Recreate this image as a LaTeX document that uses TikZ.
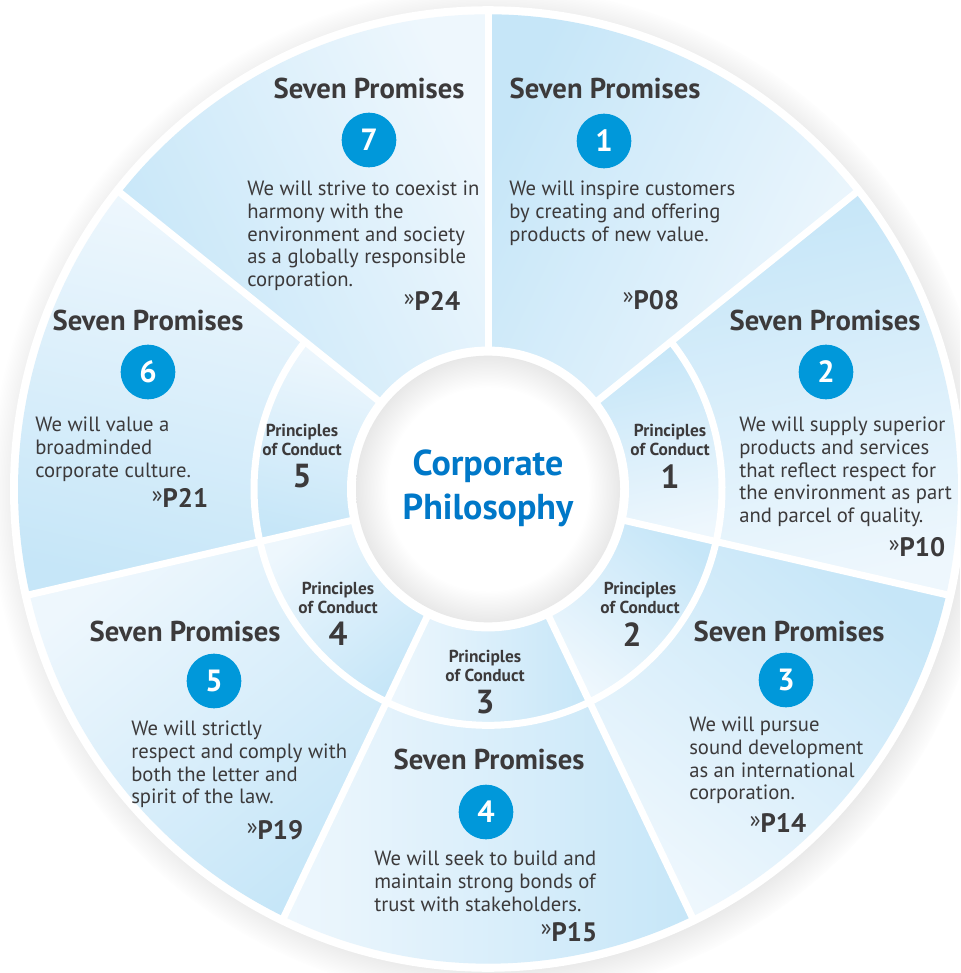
\documentclass[tikz,border=0pt]{standalone}
\usepackage{fontspec}
\setmainfont{PT Sans}
\usetikzlibrary{positioning, shadows}
\definecolor{philoBlue}{HTML}{0078C8}
\definecolor{promiseBlue}{HTML}{0098DA}
\definecolor{segmentDark}{HTML}{C6E6F8}
\definecolor{segmentLight}{HTML}{EEF7FD}
\definecolor{philoText}{HTML}{3C3A3B}
\pgfdeclareradialshading{innerglow}{\pgfpoint{0bp}{0bp}}{color(0bp)=(white); color(19bp)=(white); color(25bp)=(black!9); color(50bp)=(black!9)}
\newcommand{\seeref}[1]{{\mdseries\fontsize{17}{17}\selectfont\raisebox{4pt}{»}}#1}

\begin{document}
\begin{tikzpicture}[
        x=0.75pt, y=0.75pt,
        font=\fontsize{15.5}{17}\selectfont,
        segment/.style={
            left color=segmentDark,
            right color=segmentLight,
            shading angle=#1
        },
        divider/.style={
            draw=white,
            line width=5.25pt
        },
        promisetitle/.style={
            inner sep=0pt,
            text=philoText,
            font=\bfseries\fontsize{21.5}{22}\selectfont
        },
        promisenum/.style={
            circle,
            fill=promiseBlue,
            text=white,
            minimum size=41pt,
            inner sep=0pt,
            font=\bfseries\fontsize{23}{23}\selectfont
        },
        promisetext/.style={
            anchor=north west,
            align=left,
            inner sep=0pt,
            text=philoText
        },
        pageref/.style={
            inner sep=0pt,
            text=philoText,
            font=\bfseries\fontsize{20}{20}\selectfont
        },
        conductlabel/.style={
            align=center,
            inner sep=0pt,
            text=philoText,
            font=\bfseries\fontsize{13}{14.5}\selectfont
        },
        conductnum/.style={
            inner sep=0pt,
            text=philoText,
            font=\bfseries\fontsize{25}{25}\selectfont
        }
    ]

    % 1 unit = 1 px of the 960 x 973 page, y runs downwards as -y
    \useasboundingbox (0,0) rectangle (960,-973);
    \clip (0,0) rectangle (960,-973);

    \begin{scope}[shift={(488,-489)}, yscale=1.01]
        \fill[white, circular drop shadow={shadow scale=1.05,
            shadow xshift=3pt, shadow yshift=-3pt, opacity=0.4}]
            (0,0) circle (478);

        % seven promises, clockwise from the top
        \foreach \k/\rin in {1/138,2/234,3/234,4/234,5/234,6/234,7/138} {
            \pgfmathsetmacro\start{90-(\k-1)*360/7}
            \pgfmathsetmacro\stop{90-\k*360/7}
            \pgfmathsetmacro\mid{(\start+\stop)/2}
            \shade[segment=\mid] (\start:\rin) -- (\start:470)
                arc[start angle=\start, end angle=\stop, radius=470]
                -- (\stop:\rin)
                arc[start angle=\stop, end angle=\start, radius=\rin] -- cycle;
        }

        % principles of conduct in the middle ring
        \foreach \k in {2,...,6} {
            \pgfmathsetmacro\start{90-(\k-1)*360/7}
            \pgfmathsetmacro\stop{90-\k*360/7}
            \pgfmathsetmacro\mid{(\start+\stop)/2}
            \shade[segment=\mid] (\start:138) -- (\start:234)
                arc[start angle=\start, end angle=\stop, radius=234]
                -- (\stop:138)
                arc[start angle=\stop, end angle=\start, radius=138] -- cycle;
        }

        \foreach \k in {0,...,6}
            \draw[divider] (90-\k*360/7:130) -- (90-\k*360/7:474);
        \draw[divider] (90-360/7:234)
            arc[start angle=90-360/7, end angle=-270+360/7, radius=234];

        \fill[white] (0,0) circle (141);
        \shade[shading=innerglow] (0,0) circle (132);
    \end{scope}

    \node[font=\bfseries\fontsize{27}{33}\selectfont, text=philoBlue,
        align=center] (philo) at (488,-488) {Corporate\\Philosophy};

    % promise 1
    \node[promisetitle] (title1) at (605,-88) {Seven Promises};
    \node[promisenum] (num1) at (604,-141) {1};
    \node[promisetext] (text1) at (509,-181)
        {We will inspire customers\\by creating and offering\\products of new value.};
    \node[pageref] (ref1) at (651,-300) {\seeref{P08}};

    % promise 2
    \node[promisetitle] (title2) at (825,-320) {Seven Promises};
    \node[promisenum] (num2) at (826,-372) {2};
    \node[promisetext] (text2) at (739,-417)
        {We will supply superior\\products and services\\that reflect respect for\\the environment as part\\and parcel of quality.};
    \node[pageref] (ref2) at (917,-547) {\seeref{P10}};

    % promise 3
    \node[promisetitle] (title3) at (789,-631) {Seven Promises};
    \node[promisenum] (num3) at (786,-680) {3};
    \node[promisetext] (text3) at (689,-717)
        {We will pursue\\sound development\\as an international\\corporation.};
    \node[pageref] (ref3) at (778,-823) {\seeref{P14}};

    % promise 4
    \node[promisetitle] (title4) at (489,-759) {Seven Promises};
    \node[promisenum] (num4) at (486,-812) {4};
    \node[promisetext] (text4) at (374,-851)
        {We will seek to build and\\maintain strong bonds of\\trust with stakeholders.};
    \node[pageref] (ref4) at (569,-932) {\seeref{P15}};

    % promise 5
    \node[promisetitle] (title5) at (185,-631) {Seven Promises};
    \node[promisenum] (num5) at (214,-681) {5};
    \node[promisetext] (text5) at (131,-721)
        {We will strictly\\respect and comply with\\both the letter and\\spirit of the law.};
    \node[pageref] (ref5) at (275,-830) {\seeref{P19}};

    % promise 6
    \node[promisetitle] (title6) at (148,-320) {Seven Promises};
    \node[promisenum] (num6) at (148,-372) {6};
    \node[promisetext] (text6) at (35,-417)
        {We will value a\\broadminded\\corporate culture.};
    \node[pageref] (ref6) at (180,-498) {\seeref{P21}};

    % promise 7
    \node[promisetitle] (title7) at (369,-88) {Seven Promises};
    \node[promisenum] (num7) at (369,-140) {7};
    \node[promisetext] (text7) at (247,-181)
        {We will strive to coexist in\\harmony with the\\environment and society\\as a globally responsible\\corporation.};
    \node[pageref] (ref7) at (432,-301) {\seeref{P24}};

    % principles of conduct
    \node[conductlabel] (conduct1) at (670,-440) {Principles\\of Conduct};
    \node[conductnum, below=6pt of conduct1] (cnum1) {1};
    \node[conductlabel] (conduct2) at (640,-598) {Principles\\of Conduct};
    \node[conductnum, below=6pt of conduct2, xshift=-6pt] (cnum2) {2};
    \node[conductlabel] (conduct3) at (485,-666) {Principles\\of Conduct};
    \node[conductnum, below=6pt of conduct3] (cnum3) {3};
    \node[conductlabel] (conduct4) at (338,-598) {Principles\\of Conduct};
    \node[conductnum, below=6pt of conduct4] (cnum4) {4};
    \node[conductlabel] (conduct5) at (302,-440) {Principles\\of Conduct};
    \node[conductnum, below=6pt of conduct5] (cnum5) {5};

\end{tikzpicture}
\end{document}
